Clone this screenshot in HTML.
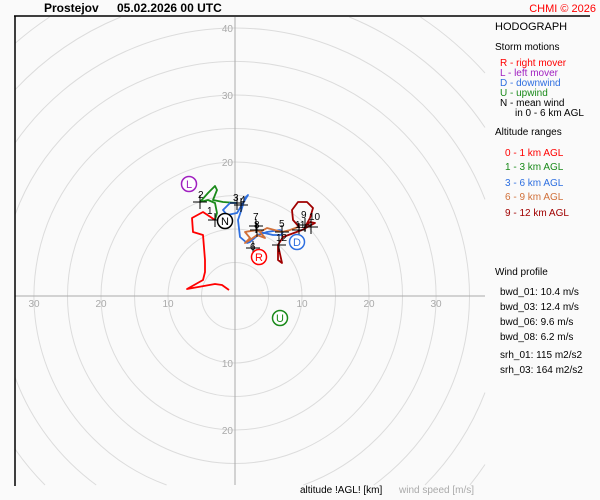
<!DOCTYPE html>
<html><head><meta charset="utf-8"><style>
html,body{margin:0;padding:0;background:#fafafa;width:600px;height:500px;overflow:hidden;}
svg{display:block;font-family:"Liberation Sans",sans-serif;}
</style></head><body>
<svg width="600" height="500" viewBox="0 0 600 500">
<rect width="600" height="500" fill="#fafafa"/>
<g fill="none" stroke="#dcdcdc" stroke-width="1">
<circle cx="235" cy="296" r="33.5"/><circle cx="235" cy="296" r="67"/>
<circle cx="235" cy="296" r="100.5"/><circle cx="235" cy="296" r="134"/>
<circle cx="235" cy="296" r="167.5"/>
<path d="M303.4,485 A201,201 0 1 0 166.6,485"/>
<path d="M373.8,485 A234.5,234.5 0 1 0 15,214.8 M15,377.2 A234.5,234.5 0 0 0 96.2,485"/>
<path d="M485,199.4 A268,268 0 0 0 15,143 M15,449 A268,268 0 0 0 45,485 M425,485 A268,268 0 0 0 485,392.6"/>
<path d="M120.7,17 A301.5,301.5 0 0 0 15,89.8 M485,127.5 A301.5,301.5 0 0 0 349.3,17 M469.9,485 A301.5,301.5 0 0 0 485,464.5"/>
<path d="M49.6,17 A335,335 0 0 0 15,43.4 M485,73 A335,335 0 0 0 420.4,17"/>
<line x1="15" y1="296" x2="485" y2="296" stroke="#aaa"/>
<line x1="235" y1="17" x2="235" y2="485" stroke="#aaa"/>
</g>
<g font-size="10" fill="#aaa" text-anchor="middle">
<text x="34" y="307">30</text><text x="101" y="307">20</text><text x="168" y="307">10</text>
<text x="302" y="307">10</text><text x="369" y="307">20</text><text x="436" y="307">30</text>
<g text-anchor="end"><text x="233" y="32">40</text><text x="233" y="99">30</text><text x="233" y="166">20</text>
<text x="233" y="367">10</text><text x="233" y="434">20</text></g>
</g>
<line x1="15" y1="16" x2="15" y2="486" stroke="#000" stroke-width="1.5"/>
<line x1="14" y1="16" x2="590" y2="16" stroke="#000" stroke-width="1.5"/>
<text x="44" y="12" font-size="12" font-weight="bold" fill="#000">Prostejov</text>
<text x="117" y="12" font-size="12" font-weight="bold" fill="#000">05.02.2026 00 UTC</text>
<text x="596" y="12" font-size="11" fill="#f00" text-anchor="end">CHMI © 2026</text>
<g fill="none" stroke-width="1.8" stroke-linejoin="round">
<polyline stroke="#f00" points="229,290 222,285 215,284 187,289 203,280 205,272 205,260 203,235 193,232 192,218 203,212 215,220"/>
<polyline stroke="#1a8a1a" points="215,220 217,213 215,203 208,200 200,202 208,193 215,186 217,190 213,200 223,202 237,203"/>
<polyline stroke="#2e6fe0" points="237,203 230,203 223,210 227,215 237,213 243,203 248,195 245,198 242,208 238,220 240,237 247,243 250,242 258,235 267,232 280,230 283,232 281,235 273,235 260,232"/>
<polyline stroke="#d0703a" points="260,232 257,230 245,232 250,238 245,243 250,240 257,235 265,238 260,232 267,228 282,232 290,230 298,227"/>
<polyline stroke="#a00000" points="300,228 293,220 292,210 298,202 307,202 313,208 310,218 305,227 310,222 315,223 302,230 283,237 278,245 278,260 282,263 278,245"/>
</g>
<g stroke="#000" stroke-width="1">
<path d="M208 220h14M215 213v14 M193 202h14M200 195v14 M230 203h14M237 196v14 M234 205h14M241 198v14 M249 226h14M256 219v14 M250 230h14M257 223v14 M275 232h14M282 225v14 M298 225h14M305 218v14 M304 227h14M311 220v14 M292 230h14M299 223v14 M272 245h14M279 238v14 M246 248h14M253 241v14"/>
</g>
<g font-size="10" fill="#000">
<text x="207" y="214">1</text><text x="198" y="198">2</text><text x="233" y="201">3</text><text x="240" y="203">4</text>
<text x="253" y="220">7</text><text x="254" y="228">8</text><text x="279" y="227">5</text><text x="301" y="218">9</text>
<text x="309" y="220">10</text><text x="295" y="228">11</text><text x="276" y="241">12</text><text x="250" y="250">6</text>
</g>
<g font-size="11" text-anchor="middle" stroke-width="1.5">
<circle cx="189" cy="184" r="7.5" fill="#fff" stroke="#a020c0"/><text x="189" y="188" fill="#a020c0" stroke="none">L</text>
<circle cx="225" cy="221" r="7.5" fill="#fff" stroke="#000"/><text x="225" y="225" fill="#000" stroke="none">N</text>
<circle cx="259" cy="257" r="7.5" fill="#fff" stroke="#f00"/><text x="259" y="261" fill="#f00" stroke="none">R</text>
<circle cx="297" cy="242" r="7.5" fill="#fff" stroke="#2e6fe0"/><text x="297" y="246" fill="#2e6fe0" stroke="none">D</text>
<circle cx="280" cy="318" r="7.5" fill="#fff" stroke="#1a8a1a"/><text x="280" y="322" fill="#1a8a1a" stroke="none">U</text>
</g>
<g font-size="10">
<text x="495" y="30" font-size="11" fill="#000">HODOGRAPH</text>
<text x="495" y="50" fill="#000">Storm motions</text>
<text x="500" y="66" fill="#f00">R - right mover</text>
<text x="500" y="76" fill="#a020c0">L - left mover</text>
<text x="500" y="86" fill="#2e6fe0">D - downwind</text>
<text x="500" y="96" fill="#1a8a1a">U - upwind</text>
<text x="500" y="106" fill="#000">N - mean wind</text>
<text x="515" y="116" fill="#000">in 0 - 6 km AGL</text>
<text x="495" y="135" fill="#000">Altitude ranges</text>
<text x="505" y="156" fill="#f00">0 - 1 km AGL</text>
<text x="505" y="170" fill="#1a8a1a">1 - 3 km AGL</text>
<text x="505" y="186" fill="#2e6fe0">3 - 6 km AGL</text>
<text x="505" y="200" fill="#d0703a">6 - 9 km AGL</text>
<text x="505" y="216" fill="#a00000">9 - 12 km AGL</text>
<text x="495" y="275" fill="#000">Wind profile</text>
<text x="500" y="295" fill="#000">bwd_01: 10.4 m/s</text>
<text x="500" y="310" fill="#000">bwd_03: 12.4 m/s</text>
<text x="500" y="325" fill="#000">bwd_06: 9.6 m/s</text>
<text x="500" y="340" fill="#000">bwd_08: 6.2 m/s</text>
<text x="500" y="358" fill="#000">srh_01: 115 m2/s2</text>
<text x="500" y="373" fill="#000">srh_03: 164 m2/s2</text>
<text x="300" y="493" fill="#000">altitude !AGL! [km]</text>
<text x="399" y="493" fill="#aaa">wind speed [m/s]</text>
</g>
</svg>
</body></html>
